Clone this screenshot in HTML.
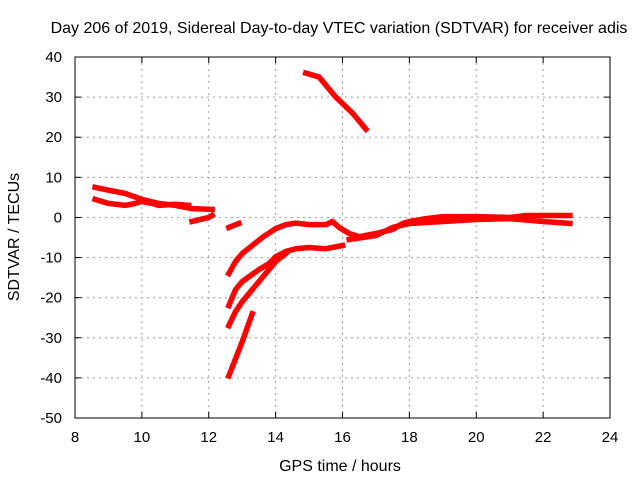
<!DOCTYPE html>
<html><head><meta charset="utf-8"><style>
body{margin:0;background:#fff;font-family:"Liberation Sans",sans-serif}
svg text{font-family:"Liberation Sans",sans-serif;font-size:15px;fill:#000}
</style></head><body>
<svg id="chart" width="640" height="480" xmlns="http://www.w3.org/2000/svg">
<text x="339" y="33" text-anchor="middle" style="font-size:16px">Day 206 of 2019, Sidereal Day-to-day VTEC variation (SDTVAR) for receiver adis</text>
<g id="grid"></g>
<g id="series"></g>
<rect x="75" y="57" width="535" height="361" fill="none" stroke="#000" stroke-width="1"/>
<g id="ticks"></g>
<text x="340" y="471" text-anchor="middle" style="font-size:16px">GPS time / hours</text>
<text transform="translate(19,237) rotate(-90)" text-anchor="middle" style="font-size:16px">SDTVAR / TECUs</text>
</svg>
<script>
const xTicks=[8,10,12,14,16,18,20,22,24];
const yTicks=[40,30,20,10,0,-10,-20,-30,-40,-50];
const seriesA=[[8.6,7.5],[9,6.8],[9.5,6],[10,4.5],[10.5,3.5],[11,3],[11.5,2.2],[12.1,2]];
const seriesB=[[8.6,4.5],[8.8,4],[9,3.5],[9.5,3],[9.8,3.5],[10,4],[10.3,3.5],[10.5,3],[11,3.3],[11.4,3]];
const seriesC=[[11.5,-1],[12,0],[12.1,0.5]];
const seriesD=[[12.6,-2.5],[12.9,-1.5]];
const seriesE=[[12.6,-14],[12.8,-11],[13,-9],[13.3,-7],[13.6,-5],[14,-2.8],[14.3,-1.8],[14.6,-1.4],[15,-1.8],[15.5,-1.8],[15.7,-1],[15.9,-2.5],[16.2,-4],[16.5,-4.8],[17,-4],[17.5,-3],[17.8,-1.5],[18,-1],[18.5,-0.3],[19,0.2],[20,0.2],[21,0],[21.5,0.5],[22,0.5],[22.8,0.5]];
const seriesF=[[12.6,-22],[12.8,-18],[13,-16],[13.5,-13],[13.8,-11.5],[14,-9.8],[14.3,-8.5],[14.6,-7.8],[15,-7.5],[15.5,-7.8],[16,-7]];
const seriesG=[[12.6,-27],[12.8,-23.5],[13,-21],[13.3,-18],[13.6,-15],[14,-11],[14.3,-9]];
const seriesH=[[12.6,-39.5],[13,-31],[13.3,-24]];
const seriesI=[[14.9,36],[15.3,35],[15.6,32],[15.8,30],[16.3,26],[16.7,22]];
const seriesJ=[[16.2,-5.5],[17,-4.5],[17.5,-2.5],[18,-1.5],[19,-1],[20,-0.5],[21,-0.3],[22,-1],[22.8,-1.5]];
const allSeries=[seriesA,seriesB,seriesC,seriesD,seriesE,seriesF,seriesG,seriesH,seriesI,seriesJ];
const X=v=>75+(v-8)*535/16;
const Y=v=>57+(40-v)*361/90;
const NS="http://www.w3.org/2000/svg";
const grid=document.getElementById('grid'),ticks=document.getElementById('ticks'),ser=document.getElementById('series');
function mk(t,a,p){const e=document.createElementNS(NS,t);for(const k in a)e.setAttribute(k,a[k]);p.appendChild(e);return e;}
xTicks.forEach(t=>{
 const x=X(t);
 if(t>8&&t<24){const l=mk('line',{x1:x,x2:x,y1:57,y2:418,stroke:'#a0a0a0','stroke-dasharray':'2,4'},grid);
 
 }
 mk('line',{x1:x,x2:x,y1:418,y2:412,stroke:'#000'},ticks);
 mk('line',{x1:x,x2:x,y1:57,y2:63,stroke:'#000'},ticks);
 const tx=mk('text',{x:x,y:442,'text-anchor':'middle'},ticks);tx.textContent=t;
 
 
});
yTicks.forEach(t=>{
 const y=Y(t);
 if(t<40&&t>-50){const l=mk('line',{x1:75,x2:610,y1:y,y2:y,stroke:'#a0a0a0','stroke-dasharray':'2,4'},grid);
 
 }
 mk('line',{x1:75,x2:81,y1:y,y2:y,stroke:'#000'},ticks);
 mk('line',{x1:610,x2:604,y1:y,y2:y,stroke:'#000'},ticks);
 const tx=mk('text',{x:62,y:y+5,'text-anchor':'end'},ticks);tx.textContent=t;
 
 
});
allSeries.forEach((s,i)=>{
 const p=mk('polyline',{points:s.map(d=>X(d[0])+','+Y(d[1])).join(' '),fill:'none',stroke:'#ff0000','stroke-width':5.5,'stroke-linejoin':'round','stroke-linecap':'square'},ser);
 
 
});
</script>
</body></html>
